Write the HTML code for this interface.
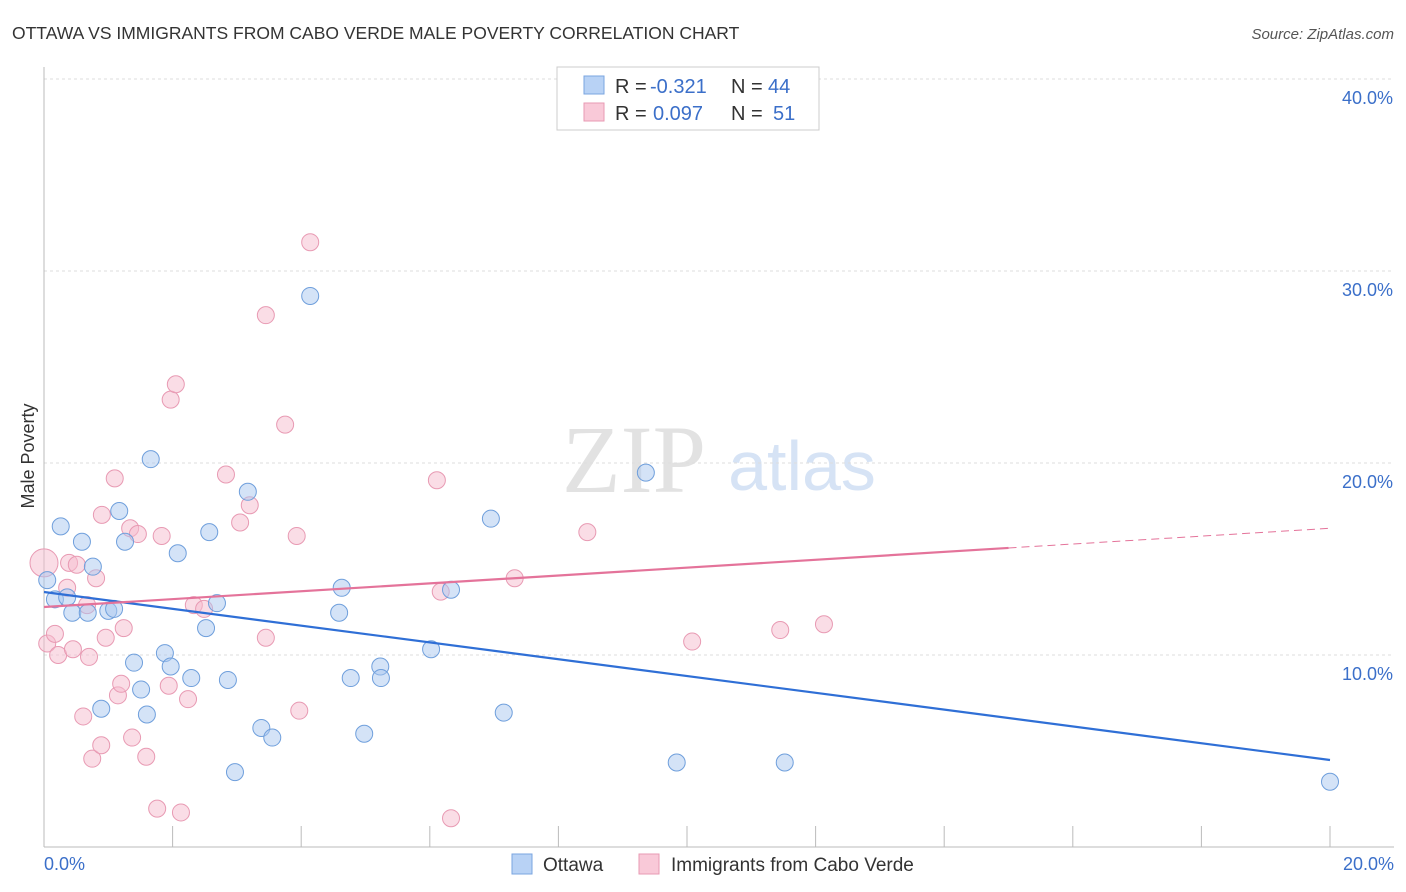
<!DOCTYPE html>
<html><head><meta charset="utf-8"><style>
body{margin:0;background:#fff;font-family:"Liberation Sans",sans-serif;}
svg{display:block}
</style></head><body>
<svg id="c" width="1406" height="892">
<text x="12" y="39" font-size="17.5" fill="#333">OTTAWA VS IMMIGRANTS FROM CABO VERDE MALE POVERTY CORRELATION CHART</text>
<text x="1394" y="39" font-size="15" fill="#555" font-style="italic" text-anchor="end">Source: ZipAtlas.com</text>
<text x="634" y="492" font-size="96" fill="#e2e2e2" font-family="Liberation Serif" text-anchor="middle">ZIP</text>
<text x="802" y="490" font-size="70" fill="#d6e3f5" text-anchor="middle">atlas</text>
<text transform="translate(34,456) rotate(-90)" font-size="18" fill="#333" text-anchor="middle">Male Poverty</text>
<g id="grid"></g><g id="marks"></g>
<g>
<rect x="557" y="67" width="262" height="63" fill="#fff" stroke="#ccc"/>
<rect x="584" y="76" width="20" height="18" fill="#b8d2f5" stroke="#7aa5e0"/>
<rect x="584" y="103" width="20" height="18" fill="#f9c9d8" stroke="#e89ab3"/>
<text x="615" y="93" font-size="20" fill="#333">R =</text>
<text x="650" y="93" font-size="20" fill="#3b6fc9">-0.321</text>
<text x="731" y="93" font-size="20" fill="#333">N =</text>
<text x="768" y="93" font-size="20" fill="#3b6fc9">44</text>
<text x="615" y="120" font-size="20" fill="#333">R =</text>
<text x="653" y="120" font-size="20" fill="#3b6fc9">0.097</text>
<text x="731" y="120" font-size="20" fill="#333">N =</text>
<text x="773" y="120" font-size="20" fill="#3b6fc9">51</text>
</g>
<g>
<rect x="512" y="854" width="20" height="20" fill="#b8d2f5" stroke="#7aa5e0"/>
<text x="543" y="871" font-size="19" fill="#333">Ottawa</text>
<rect x="639" y="854" width="20" height="20" fill="#f9c9d8" stroke="#e89ab3"/>
<text x="671" y="871" font-size="19" fill="#333">Immigrants from Cabo Verde</text>
</g>
</svg>
<script>
const yTicks=[10,20,30,40];
const yTickLabels=["10.0%","20.0%","30.0%","40.0%"];
const xTicks=[0,2,4,6,8,10,12,14,16,18,20];
const ottawaX=[0.05,0.17,0.26,0.36,0.44,0.59,0.68,0.76,0.89,1.0,1.09,1.17,1.26,1.4,1.51,1.6,1.66,1.88,1.97,2.08,2.29,2.52,2.57,2.69,2.86,2.97,3.17,3.38,3.55,4.14,4.59,4.63,4.77,4.98,5.23,5.24,6.02,6.33,6.95,7.15,9.36,9.84,11.52,20.0];
const ottawaY=[13.9,12.9,16.7,13.0,12.2,15.9,12.2,14.6,7.2,12.3,12.4,17.5,15.9,9.6,8.2,6.9,20.2,10.1,9.4,15.3,8.8,11.4,16.4,12.7,8.7,3.9,18.5,6.2,5.7,28.7,12.2,13.5,8.8,5.9,9.4,8.8,10.3,13.4,17.1,7.0,19.5,4.4,4.4,3.4];
const caboX=[0,0.05,0.17,0.22,0.36,0.39,0.45,0.51,0.61,0.67,0.7,0.75,0.81,0.89,0.9,0.96,1.1,1.15,1.2,1.24,1.34,1.37,1.46,1.59,1.76,1.83,1.94,1.97,2.05,2.13,2.24,2.33,2.49,2.83,3.05,3.2,3.45,3.45,3.75,3.93,3.97,4.14,6.11,6.17,6.33,7.32,8.45,10.08,11.45,12.13];
const caboY=[14.8,10.6,11.1,10.0,13.5,14.8,10.3,14.7,6.8,12.6,9.9,4.6,14.0,5.3,17.3,10.9,19.2,7.9,8.5,11.4,16.6,5.7,16.3,4.7,2.0,16.2,8.4,23.3,24.1,1.8,7.7,12.6,12.4,19.4,16.9,17.8,27.7,10.9,22.0,16.2,7.1,31.5,19.1,13.3,1.5,14.0,16.4,10.7,11.3,11.6];
const blueLine=[13.28,4.53];
const pinkLine=[12.5,16.6];
const pinkSolidEnd=15.0;
const NS="http://www.w3.org/2000/svg";
const sx=v=>44+v*64.3, sy=v=>847-v*19.2;
function mk(t,a,p){const e=document.createElementNS(NS,t);for(const k in a)e.setAttribute(k,a[k]);p.appendChild(e);return e;}
const grid=document.getElementById('grid'),marks=document.getElementById('marks');
yTicks.forEach((t,i)=>{
 const l=mk('line',{x1:44,x2:1394,y1:sy(t),y2:sy(t),stroke:'#ddd','stroke-dasharray':'3,3'},grid);
 
 
 const tx=mk('text',{x:1393,y:sy(t)+25,'font-size':18,fill:'#3b6fc9','text-anchor':'end'},grid);
 tx.textContent=yTickLabels[i];
 
 
});
const ax=mk('line',{x1:44,x2:44,y1:67,y2:847,stroke:'#bbb'},grid);


const bx=mk('line',{x1:44,x2:1394,y1:847,y2:847,stroke:'#bbb'},grid);


xTicks.forEach(t=>{const l=mk('line',{x1:sx(t),x2:sx(t),y1:826,y2:847,stroke:'#bbb'},grid);
 
 });
[[0,"0.0%","start",44],[20,"20.0%","end",1394]].forEach(d=>{const t=mk('text',{x:d[3],y:870,'font-size':18,fill:'#3b6fc9','text-anchor':d[2]},grid);t.textContent=d[1];
 
 });
function pts(X,Y,fill,stroke,name){X.forEach((x,i)=>{const c=mk('circle',{cx:sx(x),cy:sy(Y[i]),r:(i==0&&name=='cabo-point')?14:8.5,fill:fill,'fill-opacity':0.5,stroke:stroke,'stroke-width':1},marks);
 
 });}
pts(caboX,caboY,'#f6bccd','#e89ab3','cabo-point');
pts(ottawaX,ottawaY,'#a9c8f0','#6f9fdc','ottawa-point');
const lb=mk('line',{x1:sx(0),y1:sy(blueLine[0]),x2:sx(20),y2:sy(blueLine[1]),stroke:'#2f6fd6','stroke-width':2.2},marks);


const py=x=>pinkLine[0]+(pinkLine[1]-pinkLine[0])*x/20;
const lp=mk('line',{x1:sx(0),y1:sy(py(0)),x2:sx(pinkSolidEnd),y2:sy(py(pinkSolidEnd)),stroke:'#e4739a','stroke-width':2.2},marks);


const ld=mk('line',{x1:sx(pinkSolidEnd),y1:sy(py(pinkSolidEnd)),x2:sx(20),y2:sy(py(20)),stroke:'#e4739a','stroke-width':1,'stroke-dasharray':'8,5'},marks);


</script>
</body></html>
